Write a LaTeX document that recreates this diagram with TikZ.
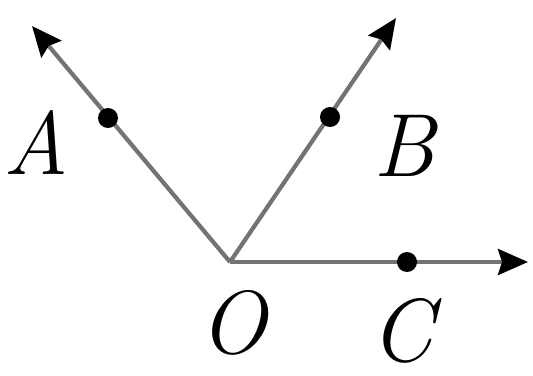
\documentclass[tikz,border=0pt]{standalone}
\usetikzlibrary{arrows.meta}
\begin{document}
\begin{tikzpicture}[x=0.02cm,y=-0.02cm,
  ray/.style={draw=black!55, line width=2.4pt, -{Stealth[length=0.6cm,width=0.52cm,inset=0.08cm,black]}},
  pt/.style={circle, fill=black, inner sep=0pt, minimum size=0.4cm},
  lab/.style={font=\fontsize{51}{60}\selectfont\itshape, inner sep=0pt}]
\useasboundingbox (0,0) rectangle (533,375);
\coordinate (O) at (230,262);
\coordinate (Ta) at (32,26);
\coordinate (Tb) at (396,18);
\coordinate (Tc) at (528,262);
\draw[ray] (O) -- (Ta);
\draw[ray] (O) -- (Tb);
\draw[ray] (O) -- (Tc);
\node[pt] (dA) at (108,118) {};
\node[pt] (dB) at (330,117) {};
\node[pt] (dC) at (407,262) {};
\node[lab] (lA) at (36,143) {A};
\node[lab] (lB) at (404,146) {B};
\node[lab] (lO) at (233,323) {O};
\node[lab] (lC) at (402,331) {C};
\end{tikzpicture}
\end{document}
